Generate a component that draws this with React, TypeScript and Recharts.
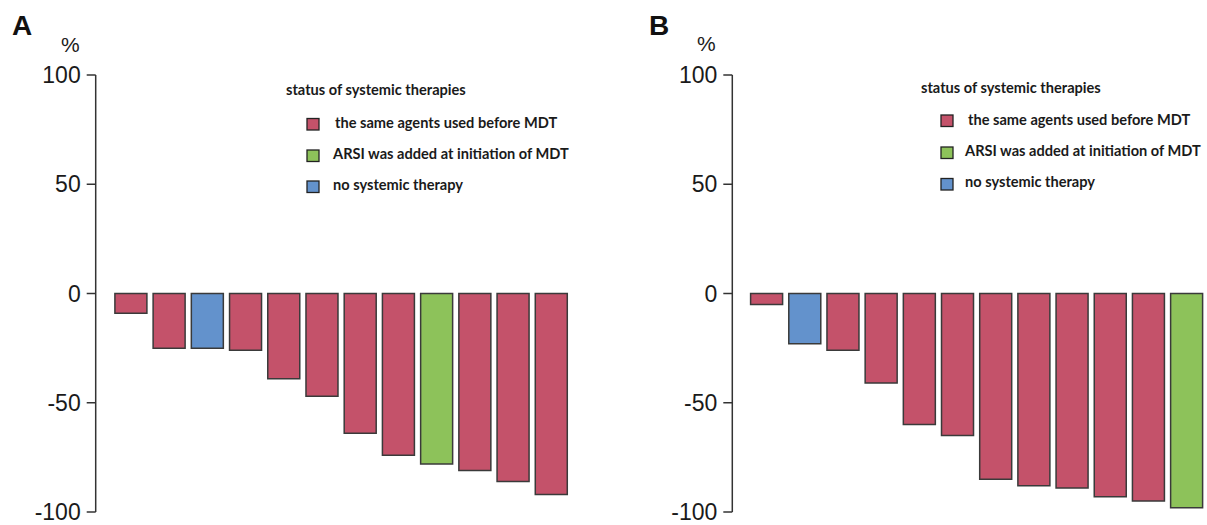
import React from 'react';
import { BarChart, Bar, XAxis, YAxis, Cell } from 'recharts';

const patientsA = ['1', '2', '3', '4', '5', '6', '7', '8', '9', '10', '11', '12'];
const changeA = [-9, -25, -25, -26, -39, -47, -64, -74, -78, -81, -86, -92];
const statusA = ['same', 'same', 'none', 'same', 'same', 'same', 'same', 'same', 'arsi', 'same', 'same', 'same'];

const patientsB = ['1', '2', '3', '4', '5', '6', '7', '8', '9', '10', '11', '12'];
const changeB = [-5, -23, -26, -41, -60, -65, -85, -88, -89, -93, -95, -98];
const statusB = ['same', 'none', 'same', 'same', 'same', 'same', 'same', 'same', 'same', 'same', 'same', 'arsi'];

const yTicks = [100, 50, 0, -50, -100];

const legendTitle = 'status of systemic therapies';
const legendKeys = ['same', 'arsi', 'none'];
const legendLabels = ['the same agents used before MDT', 'ARSI was added at initiation of MDT', 'no systemic therapy'];

const COLORS: Record<string, string> = {
  same: '#C4526A',
  arsi: '#8DC25A',
  none: '#6392CC',
};

const AXIS = '#333333';
const FONT = '"Liberation Sans", Arial, sans-serif';
const LEGEND_FONT = 'Lato, "Open Sans", sans-serif';

type PanelProps = {
  names: string[];
  values: number[];
  status: string[];
  left: number;
  width: number;
  marginLeft: number;
  marginRight: number;
  padLeft: number;
};

const Panel = ({ names, values, status, left, width, marginLeft, marginRight, padLeft }: PanelProps) => {
  const data = names.map((name, i) => ({ name, value: values[i], status: status[i] }));
  return (
    <div style={{ position: 'absolute', left, top: 0 }}>
      <BarChart
        width={width}
        height={525}
        data={data}
        margin={{ top: 75, right: marginRight, bottom: 13, left: marginLeft }}
      >
        <XAxis dataKey="name" hide padding={{ left: padLeft, right: 0 }} />
        <YAxis
          width={60}
          domain={[-100, 100]}
          ticks={yTicks}
          interval={0}
          axisLine={{ stroke: AXIS, strokeWidth: 1.5 }}
          tickLine={{ stroke: AXIS, strokeWidth: 1.5 }}
          tickSize={9}
          tickMargin={6}
          tick={{ fill: '#1a1a1a', fontSize: 23, fontFamily: FONT }}
        />
        <Bar dataKey="value" barSize={32} stroke="#3a3a3a" strokeWidth={1.5} isAnimationActive={false}>
          {data.map((d, i) => (
            <Cell key={i} fill={COLORS[d.status]} />
          ))}
        </Bar>
      </BarChart>
    </div>
  );
};

type LegendProps = { x: number; titleY: number; boxX: number; rows: { boxY: number; textX: number; baseY: number }[] };

const LegendBlock = ({ x, titleY, boxX, rows }: LegendProps) => (
  <g fontFamily={LEGEND_FONT} fontWeight={700} fontSize={14.6} fill="#1a1a1a">
    <text x={x} y={titleY}>{legendTitle}</text>
    {legendKeys.map((k, i) => (
      <g key={k}>
        <rect x={boxX} y={rows[i].boxY} width={12} height={11.5} fill={COLORS[k]} stroke="#222" strokeWidth={1.3} />
        <text x={rows[i].textX} y={rows[i].baseY}>{legendLabels[i]}</text>
      </g>
    ))}
  </g>
);

export default function App() {
  return (
    <div style={{ position: 'absolute', left: 0, top: 0, width: 1207, height: 525, background: '#fff', overflow: 'hidden' }}>
      <Panel
        names={patientsA}
        values={changeA}
        status={statusA}
        left={0}
        width={600}
        marginLeft={35.7}
        marginRight={29.5}
        padLeft={16.2}
      />
      <Panel
        names={patientsB}
        values={changeB}
        status={statusB}
        left={620}
        width={587}
        marginLeft={52.3}
        marginRight={1.2}
        padLeft={15.3}
      />
      <svg width={1207} height={525} style={{ position: 'absolute', left: 0, top: 0, pointerEvents: 'none' }}>
        <text x={12} y={35} fontFamily={FONT} fontWeight={700} fontSize={28} fill="#111">A</text>
        <text x={649} y={35} fontFamily={FONT} fontWeight={700} fontSize={28} fill="#111">B</text>
        <text x={61} y={52} fontFamily={FONT} fontSize={21} fill="#1a1a1a">%</text>
        <text x={697} y={51} fontFamily={FONT} fontSize={21} fill="#1a1a1a">%</text>
        <LegendBlock
          x={286}
          titleY={95}
          boxX={307}
          rows={[
            { boxY: 118.5, textX: 335, baseY: 127.5 },
            { boxY: 150, textX: 333, baseY: 159.3 },
            { boxY: 181, textX: 333, baseY: 190 },
          ]}
        />
        <LegendBlock
          x={921}
          titleY={92.7}
          boxX={941}
          rows={[
            { boxY: 115, textX: 968, baseY: 125 },
            { boxY: 147, textX: 965, baseY: 156 },
            { boxY: 178.5, textX: 965, baseY: 186.7 },
          ]}
        />
      </svg>
    </div>
  );
}
